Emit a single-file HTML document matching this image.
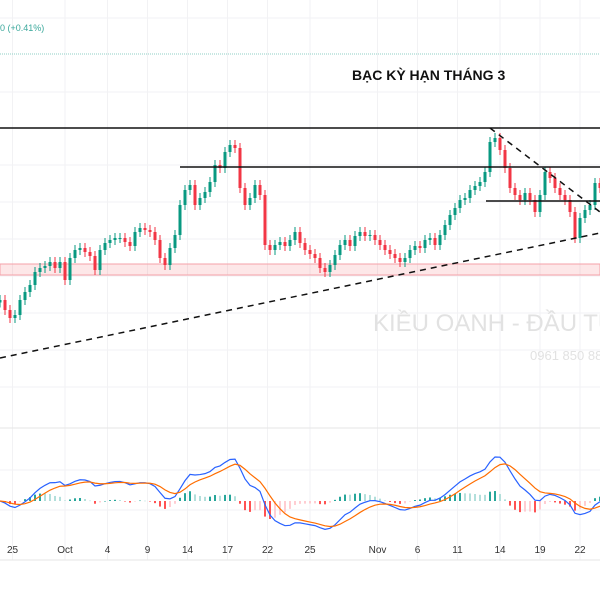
<!DOCTYPE html>
<html><head><meta charset="utf-8"><style>
html,body{margin:0;padding:0;background:#fff;width:600px;height:600px;overflow:hidden}
svg{display:block}
text{font-family:"Liberation Sans","DejaVu Sans",sans-serif}
</style></head><body>
<svg id="chart" width="600" height="600" xmlns="http://www.w3.org/2000/svg">
<rect x="0" y="0" width="600" height="600" fill="#fff"/>
<g id="grid"></g>
<line x1="0" y1="54" x2="600" y2="54" stroke="#8fcfc6" stroke-width="1" stroke-dasharray="1,1"/>
<text x="0" y="31" font-size="9" fill="#3aa89b">0 (+0.41%)</text>
<text x="352" y="80" font-size="14" font-weight="bold" fill="#111">BẠC KỲ HẠN THÁNG 3</text>
<text x="373" y="331" font-size="24" fill="#e2e2e2">KIỀU OANH - ĐẦU TƯ</text>
<text x="530" y="360" font-size="13" fill="#e2e2e2">0961 850 888</text>
<rect x="0" y="264" width="600" height="11" fill="rgba(242,54,69,0.12)" stroke="#f5a0a8" stroke-width="1"/>
<g id="candles"></g>
<line x1="0" y1="128" x2="600" y2="128" stroke="#111" stroke-width="1.5"/>
<line x1="180" y1="167" x2="600" y2="167" stroke="#111" stroke-width="1.5"/>
<line x1="486" y1="201" x2="600" y2="201" stroke="#111" stroke-width="1.5"/>
<line x1="0" y1="358" x2="600" y2="233" stroke="#111" stroke-width="1.5" stroke-dasharray="6,5"/>
<line x1="490" y1="128" x2="600" y2="212" stroke="#111" stroke-width="1.5" stroke-dasharray="6,5"/>
<line x1="0" y1="428" x2="600" y2="428" stroke="#e6e6e6" stroke-width="1"/>
<g id="macd"></g>
<line x1="0" y1="560" x2="600" y2="560" stroke="#e6e6e6" stroke-width="1"/>
<g id="xaxis"></g>
</svg>
<script>
const closes=[29.56,29.36,29.20,29.26,29.56,29.72,29.86,30.12,30.20,30.24,30.32,30.20,30.32,29.96,30.40,30.56,30.60,30.52,30.44,30.16,30.56,30.70,30.76,30.80,30.80,30.72,30.64,30.92,31.00,30.96,30.92,30.76,30.40,30.26,30.60,30.86,31.46,31.76,31.86,31.46,31.60,31.72,31.92,32.26,32.20,32.52,32.66,32.60,31.80,31.46,31.60,31.86,31.66,30.66,30.56,30.66,30.72,30.64,30.76,30.92,30.70,30.56,30.48,30.40,30.20,30.12,30.26,30.46,30.66,30.76,30.64,30.84,30.92,30.84,30.86,30.76,30.66,30.56,30.48,30.40,30.32,30.40,30.56,30.64,30.60,30.76,30.80,30.66,30.86,31.06,31.26,31.40,31.56,31.60,31.76,31.84,31.92,32.12,32.72,32.80,32.56,32.20,31.80,31.66,31.56,31.70,31.56,31.32,31.66,32.12,32.00,31.80,31.66,31.56,31.32,30.80,31.20,31.36,31.46,31.90,31.80];
const dateLabels=["25","Oct","4","9","14","17","22","25","Nov","6","11","14","19","22"];
const dateIndex=[2.5,13,21.5,29.5,37.5,45.5,53.5,62,75.5,83.5,91.5,100,108,116];
const NS="http://www.w3.org/2000/svg";
function mk(tag,attrs,parent){const e=document.createElementNS(NS,tag);for(const k in attrs)e.setAttribute(k,attrs[k]);parent.appendChild(e);return e;}
const xOf=i=>i*5;
const yOf=p=>128+(33-p)*50;
const grid=document.getElementById('grid');
dateIndex.forEach(i=>{const l=mk('line',{x1:xOf(i),x2:xOf(i),y1:0,y2:560,stroke:'#f2f2f4','stroke-width':1},grid);

});
[18,92,128,165,202,239,276,313,350,387,470,510].forEach(y=>{const l=mk('line',{x1:0,x2:600,y1:y,y2:y,stroke:'#f2f2f4','stroke-width':1},grid);

});
const cg=document.getElementById('candles');
closes.forEach((c,i)=>{
  const o=i===0?c-0.05:closes[i-1];
  const up=c>=o;const col=up?'#089981':'#f23645';
  const hi=Math.max(o,c)+0.1,lo=Math.min(o,c)-0.1;
  const x=xOf(i);
  const w=mk('line',{x1:x,x2:x,y1:yOf(hi),y2:yOf(lo),stroke:col,'stroke-width':1},cg);
  
  
  const yt=yOf(Math.max(o,c)),yb=yOf(Math.min(o,c));
  const b=mk('rect',{x:x-1.5,y:yt,width:3,height:Math.max(1,yb-yt),fill:col},cg);
  
  
});
function ema(arr,n){const k=2/(n+1);const out=[];let v=arr[0];arr.forEach(a=>{v=a*k+v*(1-k);out.push(v);});return out;}
const e12=ema(closes,8),e26=ema(closes,17);
const macd=e12.map((v,i)=>v-e26[i]);
const sig=ema(macd,6);
const hist=macd.map((v,i)=>v-sig[i]);
const mg=document.getElementById('macd');
const zeroY=501;let mx=0;macd.forEach(v=>mx=Math.max(mx,Math.abs(v)));
const my=v=>zeroY-v/mx*44;
let hmx=0;hist.forEach(v=>hmx=Math.max(hmx,Math.abs(v)));
const hy=v=>zeroY-v/hmx*18;
hist.forEach((h,i)=>{
  const prev=i?hist[i-1]:0;
  const col=h>=0?(h>=prev?'#26a69a':'#b2dfdb'):(h<prev?'#ff5252':'#ffcdd2');
  const y1=Math.min(zeroY,hy(h)),y2=Math.max(zeroY,hy(h));
  const r=mk('rect',{x:xOf(i)-1,y:y1,width:2,height:Math.max(0.5,y2-y1),fill:col},mg);
  
  
});
const p1=mk('polyline',{points:macd.map((v,i)=>xOf(i)+','+my(v)).join(' '),fill:'none',stroke:'#2962ff','stroke-width':1.2},mg);


const p2=mk('polyline',{points:sig.map((v,i)=>xOf(i)+','+my(v)).join(' '),fill:'none',stroke:'#ff6d00','stroke-width':1.2},mg);


const xa=document.getElementById('xaxis');
dateLabels.forEach((t,j)=>{const e=mk('text',{x:xOf(dateIndex[j]),y:553,'font-size':10,fill:'#333','text-anchor':'middle'},xa);e.textContent=t;

});
</script>
</body></html>
